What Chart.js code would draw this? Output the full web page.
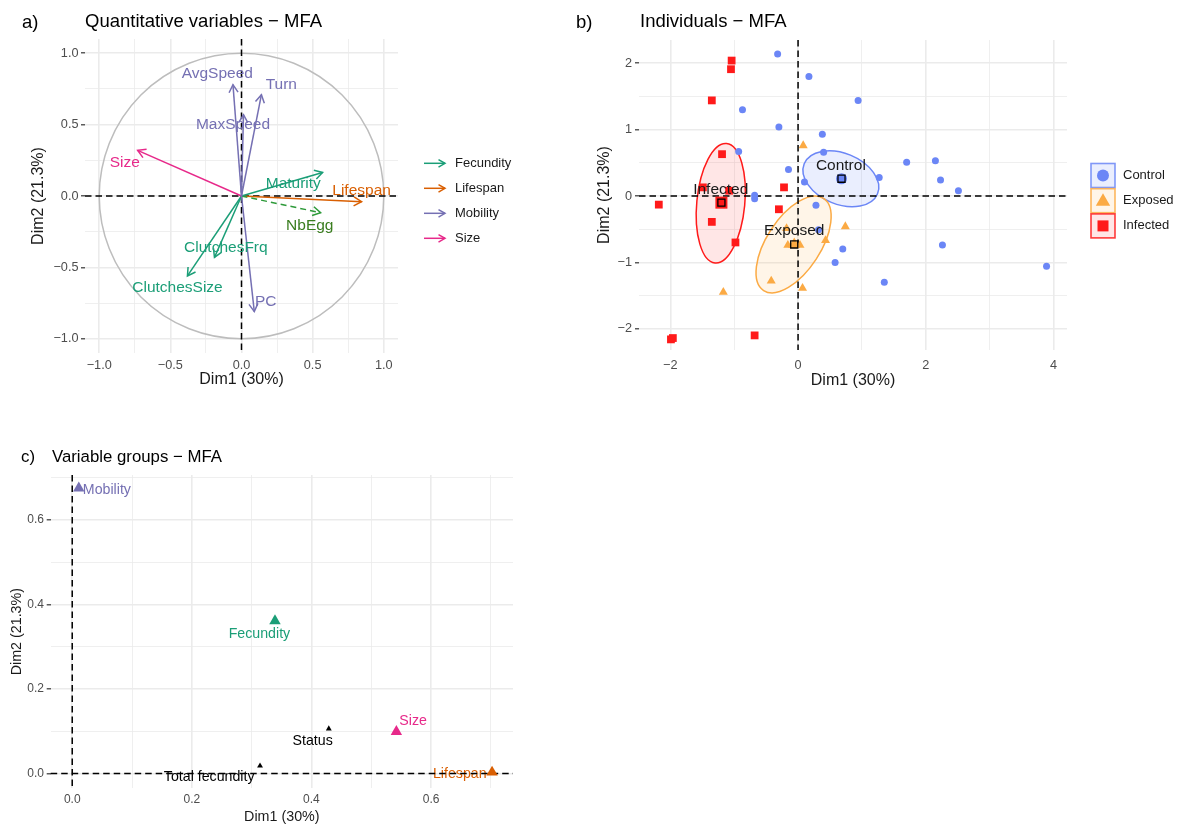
<!DOCTYPE html>
<html><head><meta charset="utf-8">
<script src="https://cdn.jsdelivr.net/npm/chart.js@4.4.1/dist/chart.umd.min.js"></script>
<style>
html,body{margin:0;padding:0;background:#fff;overflow:hidden;width:1183px;height:825px;position:relative;}
canvas{position:absolute;}
</style></head><body>
<canvas id="ca" width="560" height="400" style="left:0;top:0"></canvas>
<canvas id="cb" width="623" height="400" style="left:560px;top:0"></canvas>
<canvas id="cc" width="580" height="390" style="left:0;top:440px"></canvas>
<script>
// ---------------- DATA ----------------
// Panel a: quantitative variables (correlation circle)
const varNames  = ['AvgSpeed','Turn','MaxSpeed','PC','Size','Maturity','ClutchesFrq','ClutchesSize','NbEgg','Lifespan'];
const varGroups = ['Mobility','Mobility','Mobility','Mobility','Size','Fecundity','Fecundity','Fecundity','NbEgg','Lifespan'];
const varDim1   = [-0.06, 0.14, 0.014, 0.09, -0.73, 0.57, -0.19, -0.38, 0.556, 0.844];
const varDim2   = [ 0.78, 0.71, 0.57, -0.81,  0.32, 0.165, -0.43, -0.56, -0.117, -0.04];
const varLabelDim1 = [-0.17, 0.28, -0.06, 0.17, -0.82, 0.364, -0.11, -0.45, 0.48, 0.844];
const varLabelDim2 = [ 0.86, 0.78,  0.50, -0.74, 0.23, 0.087, -0.36, -0.64, -0.206, 0.04];
const groupLegend = ['Fecundity','Lifespan','Mobility','Size'];
const aMajor = [-1,-0.5,0,0.5,1];
const aMinor = [-0.75,-0.25,0.25,0.75];
const aLabels = ['\u22121.0','\u22120.5','0.0','0.5','1.0'];

// Panel b: individuals
const statusNames = ['Control','Exposed','Infected'];
const ctrlDim1 = [-0.32,0.17,0.94,-0.87,-0.30,0.38,0.40,-0.93,1.70,2.15,-0.15,1.27,2.23,0.10,2.51,-0.68,-0.68,0.28,0.32,0.70,0.58,2.26,1.35,3.89];
const ctrlDim2 = [2.14,1.80,1.44,1.30,1.04,0.93,0.66,0.67,0.51,0.53,0.40,0.28,0.24,0.21,0.08,0.01,-0.04,-0.14,-0.51,-0.80,-1.00,-0.74,-1.30,-1.06];
const expDim1  = [0.08,0.74,0.43,-0.16,0.03,-0.18,-0.42,0.07,-1.17];
const expDim2  = [0.76,-0.46,-0.67,-0.74,-0.74,-0.49,-1.28,-1.39,-1.45];
const infDim1  = [-1.04,-1.05,-1.35,-1.19,-1.49,-1.08,-0.22,-2.18,-0.30,-1.35,-0.98,-0.68,-1.99,-1.96];
const infDim2  = [2.04,1.91,1.44,0.63,0.13,0.08,0.13,-0.13,-0.20,-0.39,-0.70,-2.10,-2.16,-2.14];
const centroidDim1 = [0.68,-0.06,-1.20];
const centroidDim2 = [0.26,-0.73,-0.10];
const centroidLabelDim1 = [0.67,-0.06,-1.21];
const centroidLabelDim2 = [0.46,-0.52,0.10];
const ellipseCenterDim1 = [0.67,-0.07,-1.21];
const ellipseCenterDim2 = [0.26,-0.73,-0.11];
const ellipseAxisA = [[0.574,-0.226],[0.469,0.694],[0.09,0.90]];
const ellipseAxisB = [[-0.150,-0.356],[0.354,-0.222],[0.374,-0.035]];
const bXMajor = [-2,0,2,4], bXMinor = [-1,1,3], bXLabels = ['\u22122','0','2','4'];
const bYMajor = [-2,-1,0,1,2], bYMinor = [-1.5,-0.5,0.5,1.5], bYLabels = ['\u22122','\u22121','0','1','2'];

// Panel c: variable groups
const grpNames = ['Mobility','Fecundity','Size','Lifespan','Status','Total fecundity'];
const grpDim1  = [0.011,0.339,0.542,0.702,0.429,0.314];
const grpDim2  = [0.675,0.361,0.099,0.003,0.106,0.018];
const grpLabelDim1 = [0.058,0.313,0.570,0.648,0.402,0.229];
const grpLabelDim2 = [0.670,0.330,0.123,-0.002,0.076,-0.009];
const grpSupplementary = [false,false,false,false,true,true];
const cMajor = [0,0.2,0.4,0.6], cMinor = [0.1,0.3,0.5,0.7], cLabels = ['0.0','0.2','0.4','0.6'];

// ---------------- STYLE ----------------
const FONT = "'Liberation Sans', Arial, Helvetica, sans-serif";
const COL = {Fecundity:'#1B9E77', Lifespan:'#D95F02', Mobility:'#7570B3', Size:'#E7298A',
             NbEgg:'#2E9A3A', Status:'#000000', 'Total fecundity':'#000000'};
const LABCOL = Object.assign({}, COL, {NbEgg:'#3A7D1F'});
const SCOL = {Control:'#6B86F6', Exposed:'#FBAA44', Infected:'#FF1A1A'};
const SFILL = {Control:'rgba(107,134,246,0.14)', Exposed:'rgba(251,170,68,0.12)', Infected:'rgba(255,26,26,0.11)'};

function linAxis(cfg){
  const all = cfg.major.concat(cfg.minor).sort((a,b)=>a-b);
  const isMajor = v => cfg.major.some(m=>Math.abs(m-v)<1e-9);
  const isY = cfg.axis==='y';
  return {
    type:'linear', min:cfg.min, max:cfg.max,
    afterBuildTicks: s => { s.ticks = all.map(v=>({value:v})); },
    afterFit: s => { if (isY) s.width = cfg.size; else s.height = cfg.size; },
    border:{display:false},
    grid:{
      drawTicks:isY, tickLength:4, tickWidth:1.2,
      color:'#EBEBEB',
      lineWidth: c => (c.tick && isMajor(c.tick.value)) ? 1.6 : 0.8,
      tickColor: c => (c.tick && isMajor(c.tick.value)) ? '#333333' : 'rgba(0,0,0,0)'
    },
    ticks:{
      autoSkip:false, maxRotation:0, minRotation:0, padding:cfg.tickPad, color:'#4D4D4D',
      font:{family:FONT, size:cfg.tickSize},
      callback: v => { const k = cfg.major.findIndex(m=>Math.abs(m-v)<1e-9); return k>=0 ? cfg.labels[k] : ''; }
    },
    title:{display:true, text:cfg.title, color:'#1A1A1A', font:{family:FONT,size:cfg.titleSize},
           padding: isY ? {top:cfg.titlePad,bottom:0} : {top:0,bottom:cfg.titlePad}}
  };
}

function dashedAxes(ctx, ca, px, py){
  ctx.save();
  ctx.strokeStyle='#000'; ctx.lineWidth=1.5; ctx.setLineDash([6.5,4]);
  ctx.beginPath(); ctx.moveTo(ca.left,py); ctx.lineTo(ca.right,py); ctx.stroke();
  ctx.beginPath(); ctx.moveTo(px,ca.top); ctx.lineTo(px,ca.bottom); ctx.stroke();
  ctx.restore();
}
function arrowHead(ctx,x0,y0,x1,y1,len,color,lw){
  const a = Math.atan2(y1-y0,x1-x0), w = Math.PI/6;
  ctx.save(); ctx.strokeStyle=color; ctx.lineWidth=lw; ctx.setLineDash([]);
  ctx.beginPath();
  ctx.moveTo(x1-len*Math.cos(a-w), y1-len*Math.sin(a-w));
  ctx.lineTo(x1,y1);
  ctx.lineTo(x1-len*Math.cos(a+w), y1-len*Math.sin(a+w));
  ctx.stroke(); ctx.restore();
}
function text(ctx,str,x,y,size,color,align){
  ctx.save(); ctx.font = size+'px '+FONT; ctx.fillStyle=color;
  ctx.textAlign=align||'left'; ctx.textBaseline='middle'; ctx.fillText(str,x,y); ctx.restore();
}
const baseOpts = {responsive:false, animation:false, events:[], maintainAspectRatio:false,
  plugins:{legend:{display:false}, tooltip:{enabled:false}, title:{display:false}}};

// ---------------- PANEL A ----------------
new Chart(document.getElementById('ca'), {
  type:'scatter',
  data:{datasets: varNames.map((n,i)=>({
    label:n, data:[{x:0,y:0},{x:varDim1[i],y:varDim2[i]}], showLine:true,
    borderColor:COL[varGroups[i]], borderWidth:1.5, pointRadius:0,
    borderDash: varGroups[i]==='NbEgg' ? [6,4] : []
  }))},
  options:Object.assign({}, baseOpts, {
    layout:{padding:{left:27,top:39,right:162,bottom:0}},
    scales:{
      x: linAxis({axis:'x',min:-1.1,max:1.1,major:aMajor,minor:aMinor,labels:aLabels,size:47,tickPad:4.4,tickSize:12.7,title:'Dim1 (30%)',titleSize:16,titlePad:10.4}),
      y: linAxis({axis:'y',min:-1.1,max:1.1,major:aMajor,minor:aMinor,labels:aLabels,size:58,tickPad:2.5,tickSize:12.7,title:'Dim2 (21.3%)',titleSize:16,titlePad:2.4})
    }
  }),
  plugins:[{
    id:'panelA',
    beforeDatasetsDraw(chart){
      const {ctx, chartArea:ca, scales:{x,y}} = chart;
      const cx=x.getPixelForValue(0), cy=y.getPixelForValue(0);
      ctx.save();
      ctx.beginPath(); ctx.ellipse(cx,cy,x.getPixelForValue(1)-cx,cy-y.getPixelForValue(1),0,0,Math.PI*2);
      ctx.strokeStyle='#BDBDBD'; ctx.lineWidth=1.5; ctx.stroke();
      ctx.restore();
      dashedAxes(ctx, ca, cx, cy);
    },
    afterDatasetsDraw(chart){
      const {ctx, scales:{x,y}} = chart;
      chart.data.datasets.forEach((ds,i)=>{
        const m = chart.getDatasetMeta(i);
        const p0=m.data[0], p1=m.data[1];
        arrowHead(ctx,p0.x,p0.y,p1.x,p1.y,9,ds.borderColor,1.5);
      });
      varNames.forEach((n,i)=>{
        text(ctx,n,x.getPixelForValue(varLabelDim1[i]),y.getPixelForValue(varLabelDim2[i]),15.5,LABCOL[varGroups[i]],'center');
      });
    },
    afterDraw(chart){
      const ctx=chart.ctx;
      text(ctx,'a)',22,22.5,18.5,'#000','left');
      text(ctx,'Quantitative variables \u2212 MFA',85,22,18.5,'#000','left');
      groupLegend.forEach((g,i)=>{
        const yy = 163.3 + i*25;
        ctx.save(); ctx.strokeStyle=COL[g]; ctx.lineWidth=1.5;
        ctx.beginPath(); ctx.moveTo(424,yy); ctx.lineTo(445,yy); ctx.stroke(); ctx.restore();
        arrowHead(ctx,424,yy,445,yy,7.5,COL[g],1.5);
        text(ctx,g,455,yy,13,'#1A1A1A','left');
      });
    }
  }]
});

// ---------------- PANEL B ----------------
const pts = (xs,ys)=>xs.map((v,i)=>({x:v,y:ys[i]}));
const centroidStyles = ['circle','triangle','rect'];
const centroidRadius = [5.5,7,8.5];
new Chart(document.getElementById('cb'), {
  type:'scatter',
  data:{datasets:[
    {label:'centroid marks', data:pts(centroidDim1,centroidDim2), pointStyle:'rect', pointRadius:5,
     backgroundColor:'rgba(0,0,0,0)', borderColor:'#000', borderWidth:1.3, order:0},
    ...statusNames.map((s,i)=>({label:s+' centroid', data:[{x:centroidDim1[i],y:centroidDim2[i]}],
      pointStyle:centroidStyles[i], pointRadius:centroidRadius[i], backgroundColor:SCOL[s], borderWidth:0, order:1})),
    {label:'Control', data:pts(ctrlDim1,ctrlDim2), pointStyle:'circle', pointRadius:3.5, backgroundColor:SCOL.Control, borderWidth:0, order:2},
    {label:'Exposed', data:pts(expDim1,expDim2), pointStyle:'triangle', pointRadius:5.2, backgroundColor:SCOL.Exposed, borderWidth:0, order:2},
    {label:'Infected', data:pts(infDim1,infDim2), pointStyle:'rect', pointRadius:5.5, backgroundColor:SCOL.Infected, borderWidth:0, order:2}
  ]},
  options:Object.assign({}, baseOpts, {
    layout:{padding:{left:30,top:40,right:116,bottom:0}},
    scales:{
      x: linAxis({axis:'x',min:-2.49,max:4.21,major:bXMajor,minor:bXMinor,labels:bXLabels,size:50,tickPad:7.4,tickSize:12.7,title:'Dim1 (30%)',titleSize:16,titlePad:9.4}),
      y: linAxis({axis:'y',min:-2.32,max:2.35,major:bYMajor,minor:bYMinor,labels:bYLabels,size:49,tickPad:3,tickSize:12.7,title:'Dim2 (21.3%)',titleSize:16,titlePad:5.4})
    }
  }),
  plugins:[{
    id:'panelB',
    beforeDatasetsDraw(chart){
      const {ctx, chartArea:ca, scales:{x,y}} = chart;
      statusNames.forEach((s,i)=>{
        const cx=x.getPixelForValue(ellipseCenterDim1[i]), cy=y.getPixelForValue(ellipseCenterDim2[i]);
        const ax=x.getPixelForValue(ellipseCenterDim1[i]+ellipseAxisA[i][0])-cx, ay=y.getPixelForValue(ellipseCenterDim2[i]+ellipseAxisA[i][1])-cy;
        const bx=x.getPixelForValue(ellipseCenterDim1[i]+ellipseAxisB[i][0])-cx, by=y.getPixelForValue(ellipseCenterDim2[i]+ellipseAxisB[i][1])-cy;
        ctx.save(); ctx.beginPath();
        ctx.setTransform(ax,ay,bx,by,cx,cy);
        ctx.arc(0,0,1,0,Math.PI*2);
        ctx.setTransform(1,0,0,1,0,0);
        ctx.fillStyle=SFILL[s]; ctx.fill();
        ctx.strokeStyle=SCOL[s]; ctx.lineWidth=1.5; ctx.stroke();
        ctx.restore();
      });
      dashedAxes(ctx, ca, x.getPixelForValue(0), y.getPixelForValue(0));
    },
    afterDatasetsDraw(chart){
      const {ctx, scales:{x,y}} = chart;
      statusNames.forEach((s,i)=>{
        text(ctx,s,x.getPixelForValue(centroidLabelDim1[i]),y.getPixelForValue(centroidLabelDim2[i]),15.5,'#1A1A1A','center');
      });
    },
    afterDraw(chart){
      const ctx=chart.ctx;
      text(ctx,'b)',16,22.5,18.5,'#000','left');
      text(ctx,'Individuals \u2212 MFA',80,22,18.5,'#000','left');
      statusNames.forEach((s,i)=>{
        const top = 163.5 + i*25.2, left=531, sz=24, cx=left+sz/2, cy=top+sz/2;
        ctx.save();
        ctx.fillStyle=SFILL[s]; ctx.fillRect(left,top,sz,sz);
        ctx.strokeStyle=SCOL[s]; ctx.lineWidth=1.6; ctx.globalAlpha=0.85; ctx.strokeRect(left,top,sz,sz);
        ctx.globalAlpha=1; ctx.fillStyle=SCOL[s]; ctx.beginPath();
        if (i===0){ ctx.arc(cx,cy,6,0,Math.PI*2); }
        else if (i===1){ ctx.moveTo(cx,cy-7.5); ctx.lineTo(cx+7.2,cy+5); ctx.lineTo(cx-7.2,cy+5); ctx.closePath(); }
        else { ctx.rect(cx-5.5,cy-5.5,11,11); }
        ctx.fill(); ctx.restore();
        text(ctx,s,563,cy,13,'#1A1A1A','left');
      });
    }
  }]
});

// ---------------- PANEL C ----------------
new Chart(document.getElementById('cc'), {
  type:'scatter',
  data:{datasets: grpNames.map((g,i)=>({
    label:g, data:[{x:grpDim1[i],y:grpDim2[i]}], pointStyle:'triangle',
    pointRadius: grpSupplementary[i] ? 3.4 : 6.6, backgroundColor:COL[g], borderWidth:0
  }))},
  options:Object.assign({}, baseOpts, {
    layout:{padding:{left:4,top:35,right:67,bottom:0}},
    scales:{
      x: linAxis({axis:'x',min:-0.036,max:0.737,major:cMajor,minor:cMinor,labels:cLabels,size:41.7,tickPad:4.5,tickSize:12,title:'Dim1 (30%)',titleSize:14.3,titlePad:4.4}),
      y: linAxis({axis:'y',min:-0.035,max:0.706,major:cMajor,minor:cMinor,labels:cLabels,size:46.7,tickPad:2.7,tickSize:12,title:'Dim2 (21.3%)',titleSize:14.3,titlePad:4.4})
    }
  }),
  plugins:[{
    id:'panelC',
    beforeDatasetsDraw(chart){
      const {ctx, chartArea:ca, scales:{x,y}} = chart;
      grpNames.forEach((g,i)=>{
        text(ctx,g,x.getPixelForValue(grpLabelDim1[i]),y.getPixelForValue(grpLabelDim2[i]),14.2,COL[g],'center');
      });
      dashedAxes(ctx, ca, x.getPixelForValue(0), y.getPixelForValue(0));
    },
    afterDraw(chart){
      const ctx=chart.ctx;
      text(ctx,'c)',21,17,16.8,'#000','left');
      text(ctx,'Variable groups \u2212 MFA',52,17,16.8,'#000','left');
    }
  }]
});
</script>
</body></html>
